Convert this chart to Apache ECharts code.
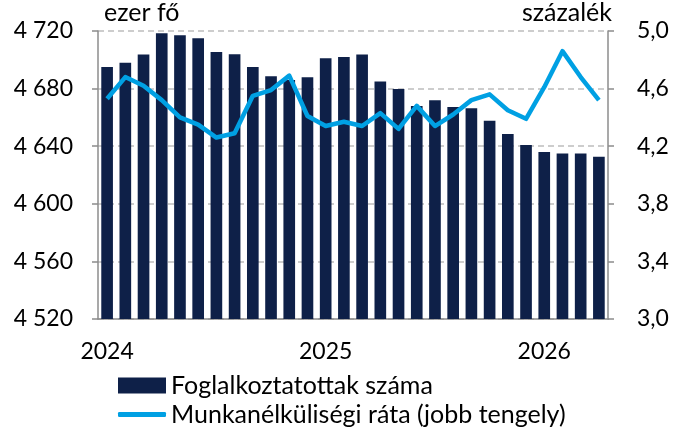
<!DOCTYPE html>
<html>
<head>
<meta charset="utf-8">
<script src="https://cdn.jsdelivr.net/npm/echarts@6/dist/echarts.min.js"></script>
<style>
  html, body { margin: 0; padding: 0; background: #fff; }
</style>
</head>
<body>
<div id="chart" style="width: 684px; height: 432px;"></div>
<script>
// havi adatok, 2024 jan - 2026 apr
const months = ['2024-01', '2024-02', '2024-03', '2024-04', '2024-05', '2024-06', '2024-07', '2024-08', '2024-09', '2024-10', '2024-11', '2024-12',
  '2025-01', '2025-02', '2025-03', '2025-04', '2025-05', '2025-06', '2025-07', '2025-08', '2025-09', '2025-10', '2025-11', '2025-12',
  '2026-01', '2026-02', '2026-03', '2026-04'];
const employed = [4695, 4698, 4703.6, 4718.4, 4717, 4715, 4705.4, 4703.8, 4695, 4688.5, 4686, 4687.8,
  4701, 4702, 4703.6, 4685, 4679.7, 4668, 4671.9, 4667.2, 4666.3, 4657.7, 4648.5, 4640.8,
  4636, 4635, 4635, 4632.7];
const unemployment = [4.53, 4.68, 4.62, 4.52, 4.40, 4.35, 4.26, 4.29, 4.55, 4.59, 4.69, 4.41,
  4.34, 4.37, 4.34, 4.43, 4.32, 4.48, 4.34, 4.42, 4.52, 4.56, 4.45, 4.39,
  4.61, 4.86, 4.68, 4.52];
const leftTicks = {min: 4520, max: 4720, interval: 40};
const rightTicks = {min: 3.0, max: 5.0, interval: 0.4};

const font = 'Lato, sans-serif';
const fs = 23;
const nameFs = 25;
const legendFs = 25;
const barName = 'Foglalkoztatottak száma';
const lineName = 'Munkanélküliségi ráta (jobb tengely)';
const chart = echarts.init(document.getElementById('chart'));
chart.setOption({
  animation: false,
  textStyle: {fontFamily: font, color: '#000'},
  grid: {left: 98, right: 76, top: 31, bottom: 113},
  legend: [
    {
      left: 113,
      top: 368,
      itemWidth: 48,
      itemHeight: 16,
      textStyle: {fontSize: legendFs, color: '#000', fontFamily: font},
      data: [{name: barName, icon: 'rect'}]
    },
    {
      left: 113,
      top: 397,
      itemWidth: 48,
      itemHeight: 5,
      textStyle: {fontSize: legendFs, color: '#000', fontFamily: font},
      data: [{name: lineName, icon: 'roundRect'}]
    }
  ],
  xAxis: {
    type: 'category',
    data: months,
    axisLine: {lineStyle: {color: '#8c8c8c', width: 1.5}},
    axisTick: {
      length: 7,
      lineStyle: {color: '#8c8c8c', width: 1.5},
      interval: function (i) { return i % 12 === 0; }
    },
    axisLabel: {
      fontSize: fs,
      color: '#000',
      margin: 21,
      interval: function (i) { return i % 12 === 0; },
      formatter: function (v) { return v.slice(0, 4); }
    }
  },
  yAxis: [
    {
      type: 'value',
      min: leftTicks.min, max: leftTicks.max, interval: leftTicks.interval,
      name: 'ezer fő',
      nameLocation: 'end',
      nameGap: 6,
      nameTextStyle: {fontSize: nameFs, color: '#000', align: 'left', padding: [0, 0, 0, 6]},
      axisLine: {show: true, lineStyle: {color: '#8c8c8c', width: 1.5}},
      axisTick: {show: true, length: 6, lineStyle: {color: '#8c8c8c', width: 1.5}},
      axisLabel: {
        fontSize: fs, color: '#000', margin: 25,
        formatter: function (v) { return String(v).replace(/\B(?=(\d{3})+(?!\d))/g, ' '); }
      },
      splitLine: {show: true, lineStyle: {color: '#bdbdbd', type: [6, 4], width: 1.5}}
    },
    {
      type: 'value',
      min: rightTicks.min, max: rightTicks.max, interval: rightTicks.interval,
      name: 'százalék',
      nameLocation: 'end',
      nameGap: 6,
      nameTextStyle: {fontSize: nameFs, color: '#000', align: 'right', padding: [0, -4, 0, 0]},
      axisLine: {show: true, lineStyle: {color: '#8c8c8c', width: 1.5}},
      axisTick: {show: true, length: 6, lineStyle: {color: '#8c8c8c', width: 1.5}},
      axisLabel: {
        fontSize: fs, color: '#000', margin: 29,
        formatter: function (v) { return v.toFixed(1).replace('.', ','); }
      },
      splitLine: {show: false}
    }
  ],
  series: [
    {
      name: barName,
      type: 'bar',
      yAxisIndex: 0,
      data: employed,
      barCategoryGap: '36%',
      itemStyle: {color: '#0e2048'}
    },
    {
      name: lineName,
      type: 'line',
      yAxisIndex: 1,
      data: unemployment,
      symbol: 'none',
      lineStyle: {color: '#00a0e3', width: 4.5, join: 'round'},
      itemStyle: {color: '#00a0e3'}
    }
  ]
});
</script>
</body>
</html>
